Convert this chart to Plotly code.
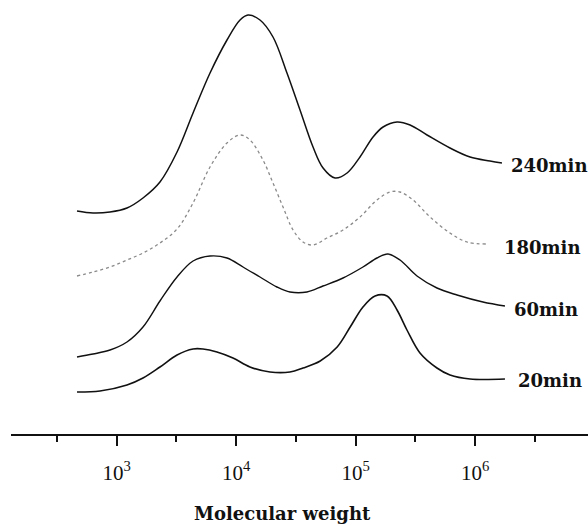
import plotly.graph_objects as go

# log10(molecular weight) positions and detector response (arbitrary units, stacked)
log_mw_240 = [2.668, 2.802, 2.944, 3.086, 3.220, 3.362, 3.505, 3.639, 3.781, 3.923, 4.032, 4.099,
              4.199, 4.308, 4.425, 4.534, 4.643, 4.727, 4.827, 4.928, 5.036, 5.145, 5.229, 5.346,
              5.455, 5.597, 5.789, 5.957, 6.124, 6.224]
resp_240 = [223, 221, 222, 226, 236, 252, 282, 321, 361, 394, 414, 419,
            414, 397, 361, 324, 287, 266, 256, 261, 277, 297, 307, 312,
            309, 299, 286, 277, 273, 271]

log_mw_180 = [2.668, 2.802, 2.944, 3.086, 3.220, 3.362, 3.505, 3.639, 3.781, 3.923, 4.032, 4.115,
              4.224, 4.308, 4.392, 4.476, 4.559, 4.643, 4.760, 4.894, 5.036, 5.178, 5.287, 5.371,
              5.480, 5.622, 5.789, 5.931, 6.098]
resp_180 = [158, 162, 167, 174, 181, 191, 205, 231, 267, 291, 299, 294,
            274, 251, 227, 204, 192, 189, 196, 204, 217, 234, 242, 242,
            234, 217, 201, 192, 190]

log_mw_60 = [2.668, 2.802, 2.944, 3.086, 3.220, 3.362, 3.505, 3.639, 3.781, 3.923, 4.057, 4.199,
             4.341, 4.450, 4.592, 4.726, 4.894, 5.061, 5.178, 5.270, 5.371, 5.513, 5.680, 5.848,
             6.065, 6.249]
resp_60 = [77, 80, 84, 92, 107, 133, 157, 173, 178, 176, 167, 157,
           147, 142, 142, 148, 156, 167, 176, 180, 174, 158, 146, 139,
           132, 128]

log_mw_20 = [2.668, 2.860, 3.086, 3.220, 3.362, 3.505, 3.639, 3.722, 3.839, 3.973, 4.115, 4.283,
             4.450, 4.559, 4.703, 4.845, 4.954, 5.061, 5.162, 5.262, 5.346, 5.429, 5.538, 5.680,
             5.789, 5.957, 6.249]
resp_20 = [42, 43, 49, 56, 67, 79, 85, 85, 82, 76, 67, 62,
           62, 66, 73, 87, 107, 127, 138, 138, 124, 104, 81, 66,
           59, 55, 55]

series_names = ["240min", "180min", "60min", "20min"]
tick_vals = [1e3, 1e4, 1e5, 1e6]
tick_text = ["10<sup>3</sup>", "10<sup>4</sup>", "10<sup>5</sup>", "10<sup>6</sup>"]
minor_vals = [10 ** 2.5, 10 ** 3.5, 10 ** 4.5, 10 ** 5.5, 10 ** 6.5]

series = [
    (log_mw_240, resp_240, dict(color="#111111", width=1.5)),
    (log_mw_180, resp_180, dict(color="#8a8a8a", width=1.3, dash="dot")),
    (log_mw_60, resp_60, dict(color="#111111", width=1.4)),
    (log_mw_20, resp_20, dict(color="#111111", width=1.6)),
]

fig = go.Figure()
for name, (lx, ry, ln) in zip(series_names, series):
    fig.add_trace(go.Scatter(
        x=[10 ** v for v in lx], y=ry, mode="lines", name=name,
        line=dict(shape="spline", smoothing=1.0, **ln), showlegend=False,
    ))

label_font = dict(family="DejaVu Serif", size=18, color="#111111")
label_pos = [(6.285, 269), (6.225, 187), (6.305, 125), (6.34, 54)]
for name, (lx, ly) in zip(series_names, label_pos):
    fig.add_annotation(x=lx, y=ly, xref="x", yref="y", text="<b>" + name + "</b>",
                       showarrow=False, xanchor="left", yanchor="middle", font=label_font)

fig.add_annotation(x=0.47, y=-0.184, xref="paper", yref="paper",
                   text="<b>Molecular weight</b>", showarrow=False,
                   xanchor="center", yanchor="middle",
                   font=dict(family="DejaVu Serif", size=18, color="#111111"))

fig.update_layout(
    width=588, height=526,
    margin=dict(l=11, r=0, t=0, b=92),
    paper_bgcolor="white", plot_bgcolor="white",
    xaxis=dict(
        type="log", range=[2.1155, 6.944],
        showgrid=False, zeroline=False,
        showline=True, linecolor="#111111", linewidth=2,
        tickmode="array", tickvals=tick_vals, ticktext=tick_text,
        ticks="outside", ticklen=10, tickwidth=1.5, tickcolor="#111111",
        tickfont=dict(family="Liberation Serif", size=21, color="#111111"),
        ticklabelstandoff=9,
        minor=dict(tickmode="array", tickvals=minor_vals, ticks="outside",
                   ticklen=6, tickwidth=1.5, tickcolor="#111111", showgrid=False),
        fixedrange=True,
    ),
    yaxis=dict(range=[0, 434], visible=False, fixedrange=True),
)

fig.write_html("out.html")
